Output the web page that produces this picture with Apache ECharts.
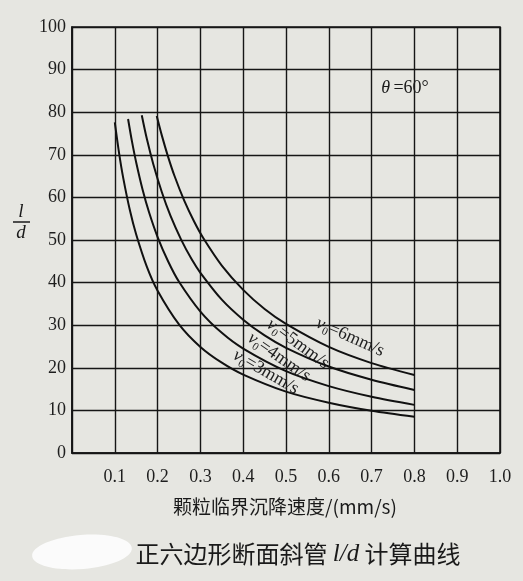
<!DOCTYPE html>
<html>
<head>
<meta charset="utf-8">
<script src="https://cdn.jsdelivr.net/npm/echarts@6/dist/echarts.min.js"></script>
<style>
html,body{margin:0;padding:0;background:#e6e6e1;}
#chart{width:523px;height:581px;}
</style>
</head>
<body>
<div id="chart"></div>
<script>
// Axis ticks
const xTicks = [0.1, 0.2, 0.3, 0.4, 0.5, 0.6, 0.7, 0.8, 0.9, 1.0];
const yTicks = [0, 10, 20, 30, 40, 50, 60, 70, 80, 90, 100];

// Curves: v0 = 3, 4, 5, 6 mm/s  (x: critical settling velocity mm/s, y: l/d)
const xV3 = [0.100, 0.110, 0.120, 0.135, 0.150, 0.175, 0.200, 0.250, 0.300, 0.350, 0.400, 0.500, 0.600, 0.700, 0.800];
const yV3 = [77.6, 70.4, 64.4, 57.1, 51.3, 43.7, 38.1, 30.2, 24.9, 21.2, 18.4, 14.4, 11.8, 9.9, 8.5];
const xV4 = [0.131, 0.140, 0.150, 0.165, 0.180, 0.200, 0.225, 0.250, 0.300, 0.350, 0.400, 0.500, 0.600, 0.700, 0.800];
const yV4 = [78.4, 73.2, 68.2, 61.8, 56.5, 50.7, 44.9, 40.2, 33.2, 28.2, 24.5, 19.2, 15.7, 13.2, 11.3];
const xV5 = [0.163, 0.175, 0.190, 0.210, 0.230, 0.255, 0.280, 0.300, 0.350, 0.400, 0.450, 0.500, 0.600, 0.700, 0.800];
const yV5 = [79.3, 73.7, 67.8, 61.2, 55.7, 50.1, 45.4, 42.3, 36.0, 31.3, 27.6, 24.7, 20.3, 17.2, 14.8];
const xV6 = [0.198, 0.210, 0.224, 0.240, 0.262, 0.285, 0.307, 0.350, 0.400, 0.450, 0.500, 0.600, 0.700, 0.800];
const yV6 = [79.1, 74.5, 69.7, 64.9, 59.3, 54.4, 50.4, 44.0, 38.3, 33.8, 30.3, 24.9, 21.1, 18.3];

const curveNames = ['v0=3mm/s', 'v0=4mm/s', 'v0=5mm/s', 'v0=6mm/s'];
const curveLabelText = ['=3mm/s', '=4mm/s', '=5mm/s', '=6mm/s'];
// label anchor (data coords) and rotation (deg)
const labelPos = [[0.453, 19.0], [0.484, 22.5], [0.528, 25.6], [0.650, 27.2]];
const labelRot = [-30, -35, -36, -24];

const xAxisName = '颗粒临界沉降速度/(mm/s)';
const titleA = '正六边形断面斜管 ';
const titleB = 'l/d';
const titleC = ' 计算曲线';
const thetaText = '=60°';

const zip = (xs, ys) => xs.map((x, i) => [x, ys[i]]);
const curves = [zip(xV3, yV3), zip(xV4, yV4), zip(xV5, yV5), zip(xV6, yV6)];

const SERIF = 'Liberation Serif, DejaVu Serif, serif';
const INK = '#161616';

const chart = echarts.init(document.getElementById('chart'));
const option = {
  backgroundColor: '#e6e6e1',
  animation: false,
  grid: { left: 72, right: 23, top: 27, bottom: 128, show: true, borderColor: INK, borderWidth: 1.6, backgroundColor: 'transparent' },
  xAxis: {
    type: 'value', min: 0, max: 1.0, interval: 0.1,
    axisLine: { show: true, lineStyle: { color: INK, width: 1.6 } },
    axisTick: { show: false },
    splitLine: { show: true, lineStyle: { color: INK, width: 1.4 } },
    axisLabel: {
      margin: 15, color: '#1e1e1e', fontSize: 18, fontFamily: SERIF,
      formatter: v => {
        const t = xTicks.find(k => Math.abs(k - v) < 1e-6);
        return t === undefined ? '' : t.toFixed(1);
      }
    }
  },
  yAxis: {
    type: 'value', min: 0, max: 100, interval: 10,
    axisLine: { show: true, lineStyle: { color: INK, width: 1.6 } },
    axisTick: { show: false },
    splitLine: { show: true, lineStyle: { color: INK, width: 1.4 } },
    axisLabel: {
      margin: 6, color: '#1e1e1e', fontSize: 18, fontFamily: SERIF,
      formatter: v => {
        const t = yTicks.find(k => Math.abs(k - v) < 1e-6);
        return t === undefined ? '' : String(t);
      }
    }
  },
  series: curves.map((d, i) => ({
    name: curveNames[i], type: 'line', data: d, symbol: 'none',
    smooth: 0.3,
    lineStyle: { color: '#111', width: 2 }
  }))
};
chart.setOption(option);

const px = p => chart.convertToPixel({ gridIndex: 0 }, p);
const graphics = [];

// curve labels
labelPos.forEach((p, i) => {
  const c = px(p);
  graphics.push({
    type: 'text', x: c[0], y: c[1], rotation: labelRot[i] * Math.PI / 180,
    style: {
      text: '{v|v}{s|0}{t|' + curveLabelText[i] + '}',
      align: 'center', verticalAlign: 'middle',
      rich: {
        v: { fontFamily: SERIF, fontStyle: 'italic', fontSize: 18, fill: '#222', lineHeight: 22, verticalAlign: 'middle' },
        s: { fontFamily: SERIF, fontSize: 11, fill: '#222', lineHeight: 22, verticalAlign: 'bottom' },
        t: { fontFamily: SERIF, fontSize: 18, fill: '#222', lineHeight: 22, verticalAlign: 'middle' }
      }
    }
  });
});

// theta annotation
const th = px([0.778, 85.7]);
graphics.push({
  type: 'text', x: th[0], y: th[1],
  style: {
    text: '{a|θ} {b|' + thetaText + '}', align: 'center', verticalAlign: 'middle',
    rich: {
      a: { fontFamily: SERIF, fontStyle: 'italic', fontSize: 18, fill: '#1a1a1a' },
      b: { fontFamily: SERIF, fontSize: 18, fill: '#1a1a1a' }
    }
  }
});

// y axis name l/d as a fraction
graphics.push(
  { type: 'text', x: 21, y: 212, style: { text: 'l', font: 'italic 19px ' + SERIF, fill: '#1a1a1a', align: 'center', verticalAlign: 'middle' } },
  { type: 'line', shape: { x1: 13, y1: 222, x2: 30, y2: 222 }, style: { stroke: '#1a1a1a', lineWidth: 1.5 } },
  { type: 'text', x: 21, y: 233, style: { text: 'd', font: 'italic 19px ' + SERIF, fill: '#1a1a1a', align: 'center', verticalAlign: 'middle' } }
);

// x axis name
graphics.push({
  type: 'text', x: 285, y: 507,
  style: { text: xAxisName, font: '19px "Noto Sans CJK SC", sans-serif', fill: '#1a1a1a', align: 'center', verticalAlign: 'middle' }
});

// bottom caption
graphics.push({
  type: 'text', x: 298, y: 554,
  style: {
    text: '{c|' + titleA + '}{i|' + titleB + '}{c|' + titleC + '}', align: 'center', verticalAlign: 'middle',
    rich: {
      c: { fontFamily: '"Noto Sans CJK SC", sans-serif', fontSize: 24, fill: '#1a1a1a' },
      i: { fontFamily: SERIF, fontStyle: 'italic', fontSize: 25, fill: '#1a1a1a' }
    }
  }
});

// erased white patch at bottom left of the page
graphics.push({
  type: 'ellipse', shape: { cx: 82, cy: 552, rx: 50, ry: 17 }, rotation: 0.08, originX: 82, originY: 552,
  style: { fill: '#fbfbfb' }
});

chart.setOption({ graphic: graphics });
</script>
</body>
</html>
